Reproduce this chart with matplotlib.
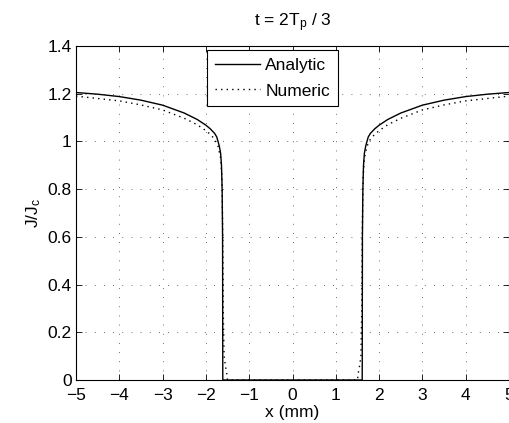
import matplotlib.pyplot as plt

plt.rcParams['font.family'] = ['Liberation Sans', 'DejaVu Sans']
plt.rcParams['mathtext.default'] = 'regular'

# analytic J/Jc
xa = [-5.0, -4.5, -4.0, -3.5, -3.0, -2.5, -2.2, -2.0, -1.9, -1.8, -1.75, -1.72, -1.69,
      -1.66, -1.64, -1.625, -1.615, -1.61,
      1.61, 1.615, 1.625, 1.64, 1.66, 1.69, 1.72, 1.75, 1.8, 1.9, 2.0, 2.2, 2.5, 3.0,
      3.5, 4.0, 4.5, 5.0]
ya = [1.205, 1.198, 1.188, 1.173, 1.152, 1.119, 1.092, 1.068, 1.053, 1.034, 1.019, 1.0,
      0.98, 0.95, 0.9, 0.8, 0.6, 0.0,
      0.0, 0.6, 0.8, 0.9, 0.95, 0.98, 1.0, 1.019, 1.034, 1.053, 1.068, 1.092, 1.119,
      1.152, 1.173, 1.188, 1.198, 1.205]

# numeric J/Jc
xn = [-5.0, -4.5, -4.0, -3.5, -3.0, -2.5, -2.2, -2.0, -1.9, -1.8, -1.72, -1.66, -1.63,
      -1.61, -1.6, -1.58, -1.55, -1.52, -1.5,
      1.5, 1.52, 1.55, 1.58, 1.6, 1.61, 1.63, 1.66, 1.72, 1.8, 1.9, 2.0, 2.2, 2.5, 3.0,
      3.5, 4.0, 4.5, 5.0]
yn = [1.19, 1.18, 1.17, 1.153, 1.132, 1.097, 1.07, 1.045, 1.03, 1.01, 0.98, 0.93, 0.85,
      0.6, 0.3, 0.1, 0.06, 0.03, 0.0,
      0.0, 0.03, 0.06, 0.1, 0.3, 0.6, 0.85, 0.93, 0.98, 1.01, 1.03, 1.045, 1.07, 1.097,
      1.132, 1.153, 1.17, 1.18, 1.19]

xticks = [-5, -4, -3, -2, -1, 0, 1, 2, 3, 4, 5]
xticklabels = ['\u22125', '\u22124', '\u22123', '\u22122', '\u22121', '0', '1', '2', '3', '4', '5']
yticks = [0, 0.2, 0.4, 0.6, 0.8, 1, 1.2, 1.4]
yticklabels = ['0', '0.2', '0.4', '0.6', '0.8', '1', '1.2', '1.4']

fs = 12.5
fig = plt.figure(figsize=(5.09, 4.23), dpi=100)
ax = fig.add_axes([76 / 509, 43 / 423, 433 / 509, 334 / 423])

ax.plot(xa, ya, color='k', lw=1.0, label='Analytic')
ax.plot(xn, yn, color='k', lw=1.0, linestyle=(0, (1, 3)), label='Numeric')

ax.set_xlim(-5, 5)
ax.set_ylim(0, 1.4)
ax.set_xticks(xticks)
ax.set_xticklabels(xticklabels)
ax.set_yticks(yticks)
ax.set_yticklabels(yticklabels)
ax.tick_params(direction='in', top=True, right=True, labelsize=fs, length=4, width=0.6,
               pad=3)
ax.tick_params(axis='x', pad=6)
ax.grid(True, color='k', linestyle=(0, (1, 10)), linewidth=0.6, alpha=0.75)
for s in ax.spines.values():
    s.set_linewidth(0.8)

ax.set_xlabel('x (mm)', fontsize=fs, labelpad=1)
ax.set_ylabel('J/J$_c$', fontsize=fs, labelpad=3)
ax.set_title('t = 2T$_p$ / 3', fontsize=fs, pad=14)

leg = ax.legend(loc='upper left', bbox_to_anchor=(0.3025, 0.988), fontsize=fs,
                fancybox=False, framealpha=1, edgecolor='k', borderaxespad=0,
                handlelength=2.6, handletextpad=0.3, borderpad=0.45, labelspacing=0.6)
leg.get_frame().set_linewidth(0.8)

fig.savefig('out.png', dpi=100)
